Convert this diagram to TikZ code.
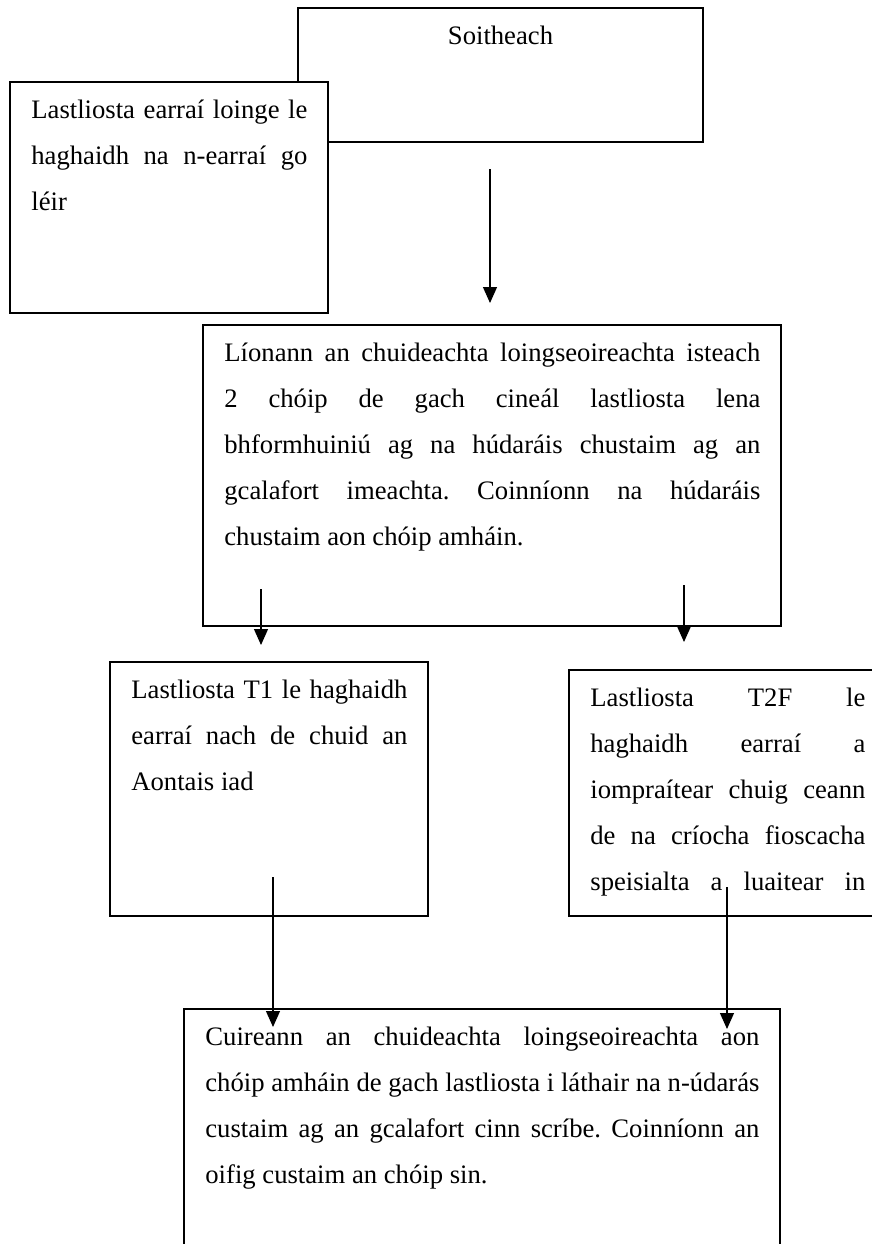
\documentclass[tikz,border=0pt]{standalone}
\usepackage{fontspec}
\setmainfont{Liberation Serif}
\usetikzlibrary{arrows.meta, positioning}
\definecolor{FrameColor}{RGB}{0,0,0}
\newcommand{\loosepar}{\frenchspacing\tolerance=10000\relax\hyphenpenalty=10000\relax\exhyphenpenalty=10000\relax}
\tikzstyle{box} = [draw=FrameColor, line width=0.8pt, fill=white, anchor=north west, inner sep=0pt, outer sep=0pt]
\tikzstyle{boxtext} = [anchor=base west, inner sep=0pt, align=justify, font=\fontsize{13.33pt}{23pt}\selectfont, execute at begin node=\loosepar]
\tikzstyle{arrow} = [semithick, FrameColor, -{Triangle[length=8pt,width=7pt]}]

\begin{document}
\begin{tikzpicture}[x=0.5pt, y=-0.5pt]
    \clip (0,0) rectangle (872,1244);

    % Vessel
    \node[box, minimum width=202.5pt, minimum height=67pt] (vessel) at (298,8) {};
    \node[anchor=base, inner sep=0pt, font=\fontsize{13.33pt}{23pt}\selectfont] (vesseltitle) at ([yshift=-18pt]vessel.north) {Soitheach};

    % Cargo manifest, drawn over the vessel
    \node[box, minimum width=159pt, minimum height=115.5pt] (manifest) at (10,82) {};
    \node[boxtext, text width=138pt] (manifesttext) at ([xshift=10.5pt,yshift=-18pt]manifest.north west)
        {Lastliosta earraí loinge le\linebreak haghaidh na n-earraí go\linebreak léir};

    % Filing with customs
    \node[box, minimum width=289pt, minimum height=150.5pt] (filing) at (203,325) {};
    \node[boxtext, text width=268pt] (filingtext) at ([xshift=10.5pt,yshift=-18pt]filing.north west)
        {Líonann an chuideachta loingseoireachta isteach\linebreak
         2 chóip de gach cineál lastliosta lena\linebreak
         bhformhuiniú ag na húdaráis chustaim ag an\linebreak
         gcalafort imeachta. Coinníonn na húdaráis\linebreak
         chustaim aon chóip amháin.};

    % T1 manifest
    \node[box, minimum width=159pt, minimum height=127pt] (tone) at (110,662) {};
    \node[boxtext, text width=138pt] (tonetext) at ([xshift=10.5pt,yshift=-18pt]tone.north west)
        {Lastliosta T1 le haghaidh\linebreak earraí nach de chuid an\linebreak Aontais iad};

    % T2F manifest
    \node[box, minimum width=158.5pt, minimum height=123pt] (ttwo) at (569,670) {};
    \node[boxtext, text width=137.5pt] (ttwotext) at ([xshift=10.5pt,yshift=-18pt]ttwo.north west)
        {Lastliosta T2F le\linebreak
         haghaidh earraí a\linebreak
         iompraítear chuig ceann\linebreak
         de na críocha fioscacha\linebreak
         speisialta a luaitear in\linebreak};

    % Port of destination
    \node[box, minimum width=298pt, minimum height=130pt] (arrival) at (184,1009) {};
    \node[boxtext, text width=277pt] (arrivaltext) at ([xshift=10.5pt,yshift=-18pt]arrival.north west)
        {Cuireann an chuideachta loingseoireachta aon\linebreak
         chóip amháin de gach lastliosta i láthair na n-údarás\linebreak
         custaim ag an gcalafort cinn scríbe. Coinníonn an\linebreak
         oifig custaim an chóip sin.};

    % Arrows
    \coordinate (vesselout) at (490,169);
    \coordinate (filingin) at (490,303);
    \coordinate (filingleft) at (261,589);
    \coordinate (tonein) at (261,645);
    \coordinate (filingright) at (684,585);
    \coordinate (ttwoin) at (684,642);
    \coordinate (toneout) at (273,877);
    \coordinate (arrivalleft) at (273,1027);
    \coordinate (ttwoout) at (727,887);
    \coordinate (arrivalright) at (727,1029);

    \draw[arrow] (vesselout) -- (filingin);
    \draw[arrow] (filingleft) -- (tonein);
    \draw[arrow] (filingright) -- (ttwoin);
    \draw[arrow] (toneout) -- (arrivalleft);
    \draw[arrow] (ttwoout) -- (arrivalright);
\end{tikzpicture}
\end{document}
